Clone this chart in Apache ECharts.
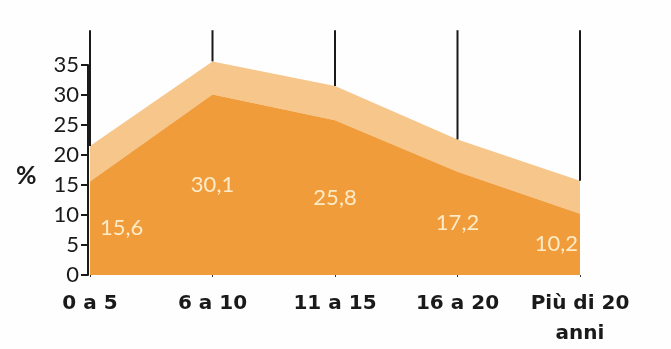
<!DOCTYPE html>
<html>
<head>
<meta charset="utf-8">
<script src="https://cdn.jsdelivr.net/npm/echarts@6/dist/echarts.min.js"></script>
<style>
  html, body { margin: 0; padding: 0; background: #fefefe; }
  #chart { width: 671px; height: 349px; }
</style>
</head>
<body>
<div id="chart"></div>
<script>
// categorie (anni)
var categories = ['0 a 5', '6 a 10', '11 a 15', '16 a 20', 'Più di 20\nanni'];
// valori percentuali (serie scura)
var values = [15.6, 30.1, 25.8, 17.2, 10.2];
// fascia chiara sopra la serie scura
var upperBand = [5.9, 5.5, 5.7, 5.4, 5.5];
// tacche asse y
var yTicks = [0, 5, 10, 15, 20, 25, 30, 35];
// le linee verticali partono da questo valore (sopra il grafico)
var guideTop = 40.8;

var totals = [];
for (var i = 0; i < values.length; i++) {
    totals.push(values[i] + upperBand[i]);
}

var myChart = echarts.init(document.getElementById('chart'));

var option = {
    animation: false,
    backgroundColor: '#fefefe',
    grid: { left: 90, right: 91, top: 65, bottom: 72 },
    xAxis: {
        type: 'category',
        data: categories,
        boundaryGap: false,
        axisLine: { show: false },
        axisTick: { show: true, length: 2, lineStyle: { color: '#333', width: 1 } },
        axisLabel: {
            interval: 0,
            hideOverlap: false,
            color: '#1a1a1a',
            fontFamily: 'DejaVu Sans',
            fontWeight: 'bold',
            fontSize: 20,
            lineHeight: 30,
            margin: 14
        },
        splitLine: { show: false }
    },
    yAxis: {
        type: 'value',
        min: 0,
        max: 35,
        interval: 5,
        offset: 2,
        axisLine: { show: true, lineStyle: { color: '#1a1a1a', width: 2 } },
        axisTick: { show: true, length: 7, lineStyle: { color: '#1a1a1a', width: 2 } },
        axisLabel: {
            color: '#1a1a1a',
            fontFamily: 'Lato',
            fontSize: 22,
            margin: 9,
            formatter: function (v) { return yTicks.indexOf(v) >= 0 ? String(v) : ''; }
        },
        splitLine: { show: false }
    },
    graphic: [{
        type: 'text',
        left: 16,
        top: 163,
        style: { text: '%', fill: '#1a1a1a', font: 'bold 25px Lato' }
    }],
    series: [
        {
            type: 'line',
            stack: 'tot',
            data: values,
            symbol: 'none',
            clip: false,
            lineStyle: { width: 0 },
            areaStyle: { color: '#f09c3a', opacity: 1 },
            z: 2
        },
        {
            type: 'line',
            stack: 'tot',
            data: upperBand,
            symbol: 'none',
            clip: false,
            lineStyle: { width: 0 },
            areaStyle: { color: '#f6c68b', opacity: 1 },
            z: 1
        },
        {
            // linee verticali dall'alto fino al bordo della fascia chiara
            type: 'custom',
            data: totals.map(function (t, i) { return [i, t]; }),
            renderItem: function (params, api) {
                var p0 = api.coord([api.value(0), api.value(1)]);
                var p1 = api.coord([api.value(0), guideTop]);
                return {
                    type: 'line',
                    shape: { x1: p0[0], y1: p0[1], x2: p1[0], y2: p1[1] },
                    style: { stroke: '#1a1a1a', lineWidth: 2 }
                };
            },
            clip: false,
            z: 3
        },
        {
            // etichette dei valori a metà altezza dell'area scura
            type: 'custom',
            data: values.map(function (v, i) { return [i, v]; }),
            renderItem: function (params, api) {
                var idx = params.dataIndex;
                var v = api.value(1);
                var p = api.coord([api.value(0), v / 2]);
                var align = 'center';
                var x = p[0];
                if (idx === 0) { align = 'left'; x += 10; }
                else if (idx === params.dataInsideLength - 1) { align = 'right'; x -= 2; }
                return {
                    type: 'text',
                    x: x,
                    y: p[1],
                    style: {
                        text: String(values[idx]).replace('.', ','),
                        fill: '#fdebc8',
                        font: '22px Lato',
                        align: align,
                        verticalAlign: 'middle'
                    }
                };
            },
            clip: false,
            z: 4
        }
    ]
};

myChart.setOption(option);
</script>
</body>
</html>
